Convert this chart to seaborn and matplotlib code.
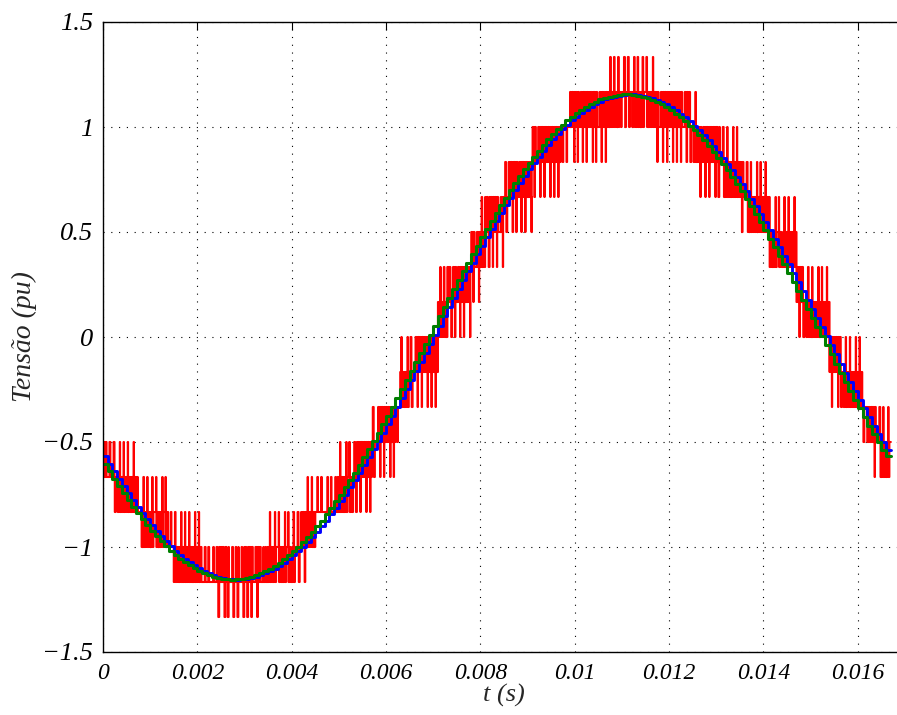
import numpy as np
import pandas as pd
import matplotlib
matplotlib.use("Agg")
import matplotlib.pyplot as plt
import seaborn as sns

# sample period of the controller (s) and the step of the converter levels (pu)
Ts = 1e-4
level_step = 1 / 6

# reference voltage (green staircase), one value per sample, pu
v_ref = [
    -0.603, -0.640, -0.676, -0.711, -0.745, -0.777, -0.809, -0.840, -0.869, -0.897,
    -0.924, -0.949, -0.973, -0.996, -1.017, -1.037, -1.056, -1.073, -1.088, -1.102,
    -1.114, -1.125, -1.134, -1.141, -1.147, -1.151, -1.154, -1.155, -1.154, -1.152,
    -1.148, -1.142, -1.135, -1.126, -1.116, -1.104, -1.090, -1.075, -1.059, -1.040,
    -1.021, -1.000, -0.977, -0.953, -0.928, -0.901, -0.874, -0.844, -0.814, -0.783,
    -0.750, -0.716, -0.682, -0.646, -0.610, -0.572, -0.534, -0.495, -0.455, -0.415,
    -0.374, -0.333, -0.291, -0.248, -0.206, -0.163, -0.120, -0.076, -0.033, 0.011,
    0.054, 0.098, 0.141, 0.184, 0.227, 0.270, 0.312, 0.353, 0.395, 0.435,
    0.475, 0.515, 0.553, 0.591, 0.628, 0.664, 0.699, 0.733, 0.766, 0.799,
    0.829, 0.859, 0.888, 0.915, 0.941, 0.965, 0.989, 1.010, 1.031, 1.050,
    1.067, 1.083, 1.097, 1.110, 1.121, 1.131, 1.139, 1.145, 1.150, 1.153,
    1.155, 1.155, 1.153, 1.150, 1.144, 1.138, 1.129, 1.120, 1.108, 1.095,
    1.080, 1.064, 1.047, 1.027, 1.007, 0.985, 0.961, 0.936, 0.910, 0.883,
    0.854, 0.824, 0.793, 0.761, 0.728, 0.693, 0.658, 0.622, 0.585, 0.547,
    0.508, 0.469, 0.429, 0.388, 0.347, 0.305, 0.263, 0.220, 0.177, 0.134,
    0.091, 0.047, 0.004, -0.040, -0.083, -0.127, -0.170, -0.213, -0.255, -0.298,
    -0.340, -0.381, -0.422, -0.462, -0.502, -0.540, -0.566,
]
# measured voltage (blue staircase) trails the reference by one sample
v_meas = [-0.566] + v_ref[:-1]

# converter output (red): lowest / highest level reached, as (lo, hi, samples) runs
# levels are integers, 1 level = 1/6 pu
red_runs = [
    (-4, -3, 2), (-5, -3, 5), (-5, -4, 1), (-6, -4, 6), (-6, -5, 1),
    (-7, -5, 6), (-7, -6, 3), (-8, -6, 9), (-7, -6, 2), (-7, -5, 8),
    (-6, -4, 2), (-5, -4, 5), (-5, -3, 7), (-4, -2, 5), (-3, -2, 1),
    (-2, 0, 8), (0, 2, 7), (1, 3, 2), (2, 4, 5), (3, 5, 6),
    (4, 6, 6), (5, 6, 2), (5, 7, 8), (6, 8, 10), (5, 7, 9),
    (4, 6, 9), (3, 5, 6), (2, 4, 6), (0, 2, 7), (-2, 0, 7),
    (-3, -2, 2), (-4, -2, 4),
]
# where inside each sample the switching starts (in 1/16 of a sample), repeated
phase_shift = [0, 3, 1, 5, 2, 0, 4, 1, 6, 2, 3, 0, 5]

xticks = [0, 0.002, 0.004, 0.006, 0.008, 0.01, 0.012, 0.014, 0.016]
yticks = [-1.5, -1, -0.5, 0, 0.5, 1, 1.5]

slots = 16


def one_sample(base, excursions, shift):
    # excursions: list of (level, fraction of the sample spent there)
    seq = [base] * slots
    centres = [(2, 10), (6, 14)]
    for (level, p), cs in zip(excursions, centres):
        q = 2 if p > 0.3 else 1
        cs = cs if q == 2 else (cs[0] + 2,)
        w = int(np.clip(round(p * slots / q), 1, 3))
        for c in cs:
            for i in range(w):
                seq[(c + shift - w // 2 + i) % slots] = level
    return seq


# ---- build the step traces ----
n = len(v_ref)
t = np.arange(n + 1) * Ts
ref_df = pd.DataFrame({"t": t, "v": v_ref + [v_ref[-1]]})
meas_df = pd.DataFrame({"t": t, "v": v_meas + [v_meas[-1]]})

lo_k = np.concatenate([[lo] * c for lo, hi, c in red_runs])
hi_k = np.concatenate([[hi] * c for lo, hi, c in red_runs])
red_t, red_v = [], []
for k in range(n):
    lo, hi = lo_k[k], hi_k[k]
    u = v_ref[k] / level_step
    shift = phase_shift[k % len(phase_shift)]
    if hi - lo == 1:
        d = float(np.clip(u - lo, 0.12, 0.88))
        if d <= 0.5:
            seq = one_sample(lo, [(hi, d)], shift)
        else:
            seq = one_sample(hi, [(lo, 1 - d)], shift)
    else:
        m = lo + 1
        f = float(np.clip(u - m, -1, 1))
        p_up = float(np.clip(0.25 + 0.7 * f, 0.08, 0.8))
        p_dn = float(np.clip(0.25 - 0.7 * f, 0.08, 0.8))
        seq = one_sample(m, [(hi, p_up), (lo, p_dn)], shift)
    for j, lv in enumerate(seq):
        red_t.append(k * Ts + j * Ts / slots)
        red_v.append(lv * level_step)
red_t.append(n * Ts)
red_v.append(red_v[-1])
red_df = pd.DataFrame({"t": red_t, "v": red_v})

# ---- figure ----
sns.set_theme(style="white")
plt.rcParams['font.family'] = ['Liberation Serif', 'DejaVu Serif']
plt.rcParams['font.style'] = 'italic'

fig = plt.figure(figsize=(8.97, 7.15), dpi=100)
ax = fig.add_axes([103 / 897, 63 / 715, 802 / 897, 630 / 715])

sns.lineplot(data=red_df, x="t", y="v", color=(1, 0, 0), lw=1.5, snap=False,
             drawstyle="steps-post", estimator=None, sort=False, ax=ax)
sns.lineplot(data=meas_df, x="t", y="v", color=(0, 0, 1), lw=2.1,
             drawstyle="steps-post", estimator=None, sort=False, ax=ax)
sns.lineplot(data=ref_df, x="t", y="v", color=(0, 0.5, 0), lw=2.2,
             drawstyle="steps-post", estimator=None, sort=False, ax=ax)

ax.set_xlim(0, 0.017)
ax.set_ylim(-1.5, 1.5)
ax.set_xticks(xticks)
ax.set_xticklabels([f"{x:g}" for x in xticks])
ax.set_yticks(yticks)
ax.set_yticklabels([f"{y:g}".replace("-", "\u2212") for y in yticks])
ax.tick_params(direction="in", top=True, right=True, length=6, width=0.8,
               colors="black")
ax.tick_params(axis="x", pad=8, labelsize=17)
ax.tick_params(axis="y", pad=7, labelsize=19)
ax.grid(True, color="black", linestyle=(0, (1, 6)), linewidth=0.8)
for s in ax.spines.values():
    s.set_color("black")
    s.set_linewidth(1.0)

ax.set_xlabel("t (s)", fontsize=19, labelpad=0)
ax.set_ylabel("Tensão (pu)", fontsize=20, labelpad=4)

fig.savefig("out.png", dpi=100)
